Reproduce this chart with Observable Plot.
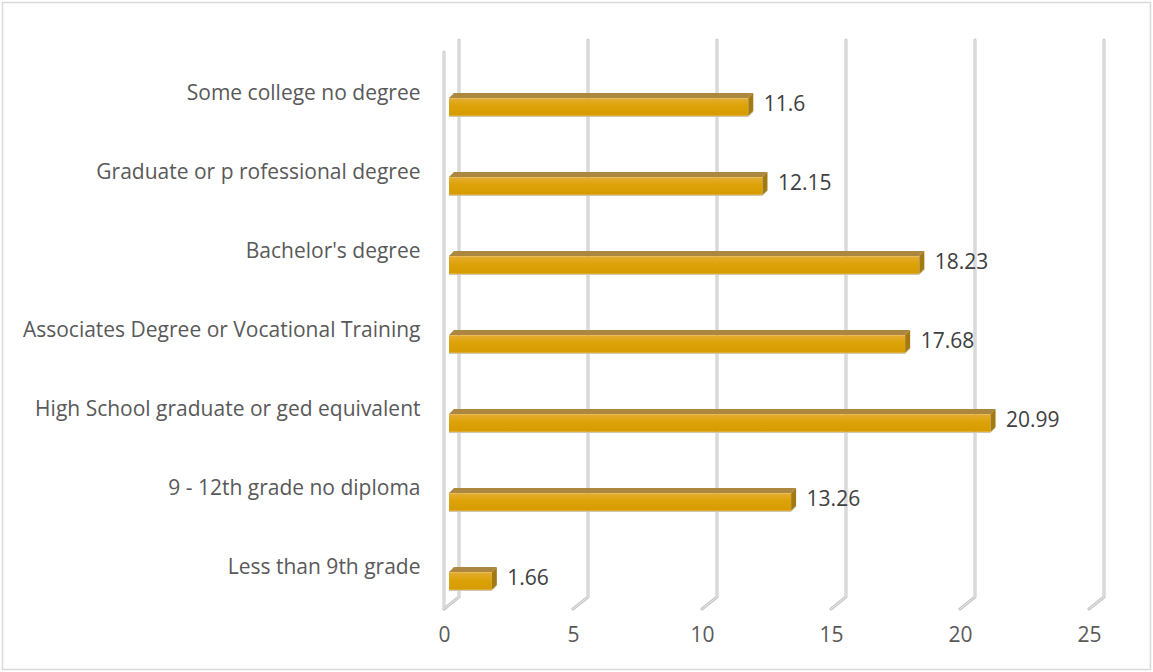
<!DOCTYPE html>
<html>
<head>
<meta charset="utf-8">
<script src="https://cdn.jsdelivr.net/npm/d3@7"></script>
<script src="https://cdn.jsdelivr.net/npm/@observablehq/plot@0.6"></script>
<style>
  html, body { margin: 0; padding: 0; background: #fff; }
  #chart svg { display: block; }
</style>
</head>
<body>
<div id="chart"></div>
<script>
const categories = [
  "Some college no degree",
  "Graduate or p rofessional degree",
  "Bachelor's degree",
  "Associates Degree or Vocational Training",
  "High School graduate or ged equivalent",
  "9 - 12th grade no diploma",
  "Less than 9th grade"
];
const values = [11.6, 12.15, 18.23, 17.68, 20.99, 13.26, 1.66];
const valueLabels = ["11.6", "12.15", "18.23", "17.68", "20.99", "13.26", "1.66"];
const xTicks = [0, 5, 10, 15, 20, 25];

const data = categories.map((c, i) => ({cat: c, value: values[i], label: valueLabels[i]}));

const W = 1153, H = 672;
const DEPTH_X = 15, DEPTH_Y = 12;   // wall depth offset
const BAR_OFF = 5;                  // bar 3D offset
const FACE_H = 18;

function bw(y) { return typeof y.bandwidth === "function" ? y.bandwidth() : y.bandwidth; }

const defs = () => {
  const d = d3.create("svg:defs");
  const g = d.append("linearGradient").attr("id", "barGrad").attr("x1", 0).attr("y1", 0).attr("x2", 0).attr("y2", 1);
  g.append("stop").attr("offset", "0%").attr("stop-color", "#e4ad33");
  g.append("stop").attr("offset", "45%").attr("stop-color", "#dda207");
  g.append("stop").attr("offset", "100%").attr("stop-color", "#d69b00");
  return d.node();
};

const border = (index, scales, values, dims) => {
  const g = d3.create("svg:g");
  g.append("rect").attr("x", 2.5).attr("y", 2.5).attr("width", dims.width - 5).attr("height", dims.height - 5)
    .attr("fill", "none").attr("stroke", "#d9d9d9").attr("stroke-width", 1.5);
  return g.node();
};

const grid = (index, scales, values, dims) => {
  const x = scales.x;
  const top = dims.marginTop, bottom = dims.height - dims.marginBottom;
  const g = d3.create("svg:g").attr("fill", "none").attr("stroke-linecap", "round").attr("stroke-linejoin", "round");
  const paths = xTicks.map(t => {
    const xf = x(t), xb = xf + DEPTH_X;
    return `M${xb},${top}L${xb},${bottom}L${xf},${bottom + DEPTH_Y}`;
  });
  // left wall front edge
  paths.push(`M${x(0)},${top + DEPTH_Y}L${x(0)},${bottom + DEPTH_Y}`);
  for (const p of paths) {
    g.append("path").attr("d", p).attr("stroke", "#c6c6c6").attr("stroke-width", 3);
    g.append("path").attr("d", p).attr("stroke", "#ececec").attr("stroke-width", 1);
  }
  return g.node();
};

const faces = (index, scales) => {
  const x = scales.x, y = scales.y, b = bw(y);
  const g = d3.create("svg:g");
  data.forEach(d => {
    const c = y(d.cat) + b / 2;
    const t = c - 6.5, btm = t + FACE_H;
    const x0 = x(0) + BAR_OFF, x1 = x(d.value) + BAR_OFF;
    const o = BAR_OFF;
    g.append("path").attr("d", `M${x0},${t}L${x0 + o},${t - o}L${x1 + o},${t - o}L${x1},${t}Z`)
      .attr("fill", "#ab873f");
    g.append("path").attr("d", `M${x1},${t}L${x1 + o},${t - o}L${x1 + o},${btm - o}L${x1},${btm}Z`)
      .attr("fill", "#a27a14");
    g.append("path").attr("d", `M${x0},${btm + 0.5}L${x1},${btm + 0.5}L${x1 + o},${btm - o + 0.5}`)
      .attr("fill", "none").attr("stroke", "#cfc6b0").attr("stroke-width", 1);
  });
  return g.node();
};

const plot = Plot.plot({
  width: W,
  height: H,
  marginTop: 40,
  marginBottom: 75,
  marginLeft: 444,
  marginRight: 49,
  style: {fontFamily: "'Open Sans', sans-serif", fontSize: "21px", background: "#fff", overflow: "visible"},
  x: {domain: [0, 25], range: [444, 1089], ticks: xTicks},
  y: {domain: categories, range: [63.8, 619.6], padding: 0, paddingInner: 0, paddingOuter: 0},
  marks: [
    defs,
    border,
    grid,
    Plot.barX(data, {
      y: "cat", x1: 0, x2: "value", dx: BAR_OFF,
      insetTop: 79.4 / 2 - 6.5, insetBottom: 79.4 / 2 - 11.5,
      fill: "url(#barGrad)"
    }),
    faces,
    Plot.text(data, {
      y: "cat", x: "value", text: "label", dx: 20, dy: -1,
      textAnchor: "start", fill: "#404040", fontSize: 21
    }),
    Plot.axisX(xTicks, {
      anchor: "bottom", tickSize: 0, tickPadding: 30, fill: "#595959",
      fontSize: 21, tickFormat: d => String(d), label: null
    }),
    Plot.axisY(categories, {
      anchor: "left", tickSize: 0, tickPadding: 24, dy: -12, fill: "#595959",
      fontSize: 21, label: null
    })
  ]
});
document.getElementById("chart").appendChild(plot);
</script>
</body>
</html>
